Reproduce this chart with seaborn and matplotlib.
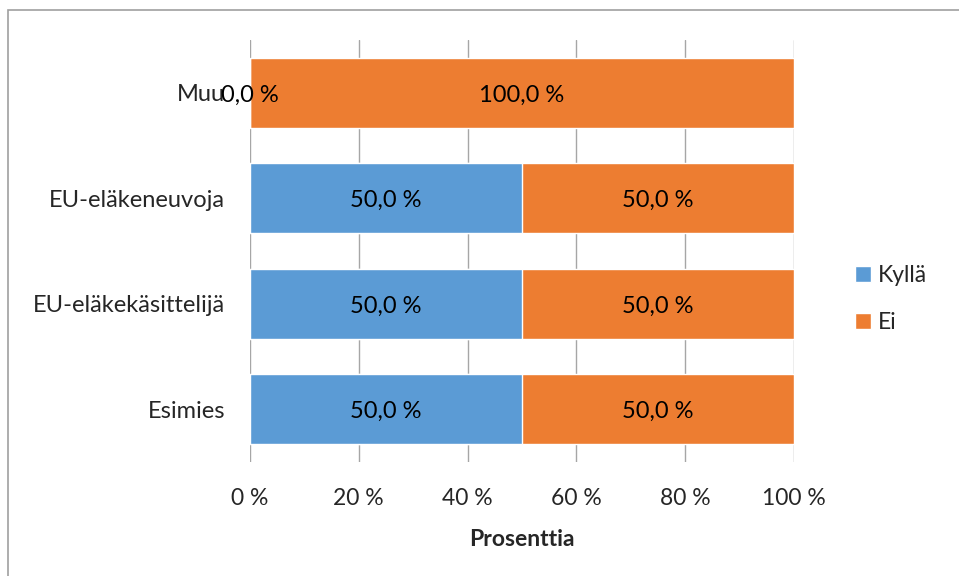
import matplotlib
matplotlib.use("Agg")
import matplotlib.pyplot as plt
from matplotlib.patches import Rectangle
import seaborn as sns
import pandas as pd

categories = ["Muu", "EU-eläkeneuvoja", "EU-eläkekäsittelijä", "Esimies"]
kylla = [0.0, 50.0, 50.0, 50.0]
ei = [100.0, 50.0, 50.0, 50.0]
xticks = [0, 20, 40, 60, 80, 100]
xtick_labels = ["0 %", "20 %", "40 %", "60 %", "80 %", "100 %"]

BLUE = "#5B9BD5"
ORANGE = "#ED7D31"

sns.set_theme(style="white")
plt.rcParams["font.family"] = ["Lato", "DejaVu Sans"]

df = pd.DataFrame({"kategoria": categories, "Kyllä": kylla, "Ei": ei})
df["yhteensä"] = df["Kyllä"] + df["Ei"]

fig = plt.figure(figsize=(9.59, 5.76), dpi=100)
ax = fig.add_axes([250 / 959, 1 - 462 / 576, 544 / 959, 422 / 576])

# stacked bars: full total in orange, the "Kyllä" share laid over it in blue
sns.barplot(data=df, y="kategoria", x="yhteensä", color=ORANGE, orient="h",
            width=0.66, saturation=1, ax=ax, label="Ei", legend=False)
sns.barplot(data=df, y="kategoria", x="Kyllä", color=BLUE, orient="h",
            width=0.66, saturation=1, ax=ax, label="Kyllä", legend=False)
if ax.get_legend() is not None:
    ax.get_legend().remove()

def fmt(v):
    return f"{v:.1f}".replace(".", ",") + " %"

for i, (k, e) in enumerate(zip(kylla, ei)):
    ax.text(k / 2, i + 0.02, fmt(k), ha="center", va="center", fontsize=17, color="black")
    ax.text(k + e / 2, i + 0.02, fmt(e), ha="center", va="center", fontsize=17, color="black")

ax.set_xlim(0, 100)
ax.set_ylim(3.5, -0.5)
ax.set_xticks(xticks)
ax.set_xticklabels(xtick_labels, fontsize=16.5)
ax.tick_params(axis="y", labelsize=17, pad=18, length=0)
ax.tick_params(axis="x", pad=19, length=0)
ax.set_ylabel("")
ax.set_xlabel("Prosenttia", fontsize=16.5, fontweight="bold", labelpad=14)

ax.set_axisbelow(True)
ax.grid(axis="x", color="#A6A6A6", linewidth=1)
ax.grid(axis="y", visible=False)
for s in ax.spines.values():
    s.set_visible(False)

bars = {c.get_label(): c for c in ax.containers}
leg = fig.legend([bars["Kyllä"], bars["Ei"]], ["Kyllä", "Ei"],
                 loc="center left", bbox_to_anchor=(846 / 959, 1 - 299 / 576),
                 frameon=False, fontsize=16.5, handlelength=0.7, handleheight=0.7,
                 handletextpad=0.3, labelspacing=1.15, borderaxespad=0)

# outer chart frame
fig.patches.append(Rectangle((8 / 959, -0.05), 1.1, 1 - 10 / 576 + 0.05,
                             transform=fig.transFigure, fill=False,
                             edgecolor="#A0A0A0", linewidth=1.2))

fig.savefig("out.png", dpi=100)
